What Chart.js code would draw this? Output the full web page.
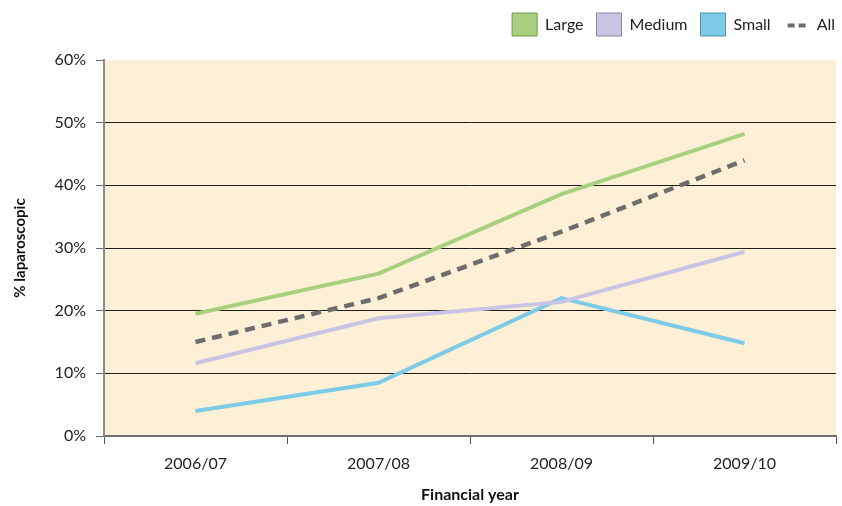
<!DOCTYPE html>
<html>
<head>
<meta charset="utf-8">
<script src="https://cdn.jsdelivr.net/npm/chart.js@4/dist/chart.umd.min.js"></script>
<style>
  html, body { margin: 0; padding: 0; background: #ffffff; }
  #wrap { width: 842px; height: 506px; }
</style>
</head>
<body>
<div id="wrap"><canvas id="c" width="842" height="506"></canvas></div>
<script>
// Share of procedures done laparoscopically, by unit size
const years = ['2006/07', '2007/08', '2008/09', '2009/10'];
const large  = [19.5, 25.9, 38.6, 48.2];
const medium = [11.6, 18.8, 21.4, 29.4];
const small  = [4.0, 8.5, 22.0, 14.8];
const all    = [15.0, 22.0, 32.6, 44.0];
const yTicks = [0, 10, 20, 30, 40, 50, 60];

const FONT = 'Lato, "Open Sans", "DejaVu Sans", sans-serif';

// Pale plot-area fill
const plotBackground = {
  id: 'plotBackground',
  beforeDraw(chart) {
    const a = chart.chartArea, ctx = chart.ctx;
    ctx.save();
    ctx.fillStyle = '#fdf0d6';
    ctx.fillRect(a.left, a.top, a.right - a.left, a.bottom - a.top);
    ctx.restore();
  }
};

// Fixed legend band height, legend pushed to the right edge,
// and a dashed glyph for the "All" entry
const legendTweaks = {
  id: 'legendTweaks',
  beforeInit(chart) {
    const lg = chart.legend;
    if (lg && !lg._fixedFit) {
      const fit = lg.fit;
      lg.fit = function () { fit.call(this); this.height = 60; };
      lg._fixedFit = true;
    }
  },
  afterLayout(chart) {
    const lg = chart.legend;
    if (lg) {
      lg.right = 848;
      lg.width = lg.right - lg.left;
    }
  },
  afterDraw(chart) {
    const lg = chart.legend;
    if (!lg || !lg.legendHitBoxes) return;
    const idx = lg.legendItems.findIndex(it => it.text === 'All');
    if (idx < 0) return;
    const hb = lg.legendHitBoxes[idx];
    const ctx = chart.ctx;
    const y = hb.top + hb.height / 2 + 1;
    ctx.save();
    ctx.strokeStyle = '#6d6d6d';
    ctx.lineWidth = 4;
    ctx.setLineDash([7, 4]);
    ctx.beginPath();
    ctx.moveTo(hb.left + 4, y);
    ctx.lineTo(hb.left + 22, y);
    ctx.stroke();
    ctx.restore();
  }
};

const series = [
  { label: 'Large',  data: large,  color: '#a8d17f', edge: '#6f9a48', dash: [] },
  { label: 'Medium', data: medium, color: '#cac4e4', edge: '#8a84a6', dash: [] },
  { label: 'Small',  data: small,  color: '#7ecbe8', edge: '#4f93ad', dash: [] },
  { label: 'All',    data: all,    color: '#6d6d6d', edge: '#6d6d6d', dash: [10, 7] }
];

new Chart(document.getElementById('c'), {
  type: 'line',
  data: {
    labels: years,
    datasets: series.map(s => ({
      label: s.label,
      data: s.data,
      borderColor: s.color,
      backgroundColor: s.color,
      borderWidth: s.label === 'All' ? 4.5 : 4,
      borderDash: s.dash,
      pointRadius: 0,
      tension: 0,
      fill: false,
      edge: s.edge
    }))
  },
  plugins: [plotBackground, legendTweaks],
  options: {
    responsive: false,
    animation: false,
    devicePixelRatio: 1,
    layout: { padding: { left: 0, right: 6, top: 0, bottom: 0 } },
    plugins: {
      tooltip: { enabled: false },
      legend: {
        position: 'top',
        align: 'end',
        labels: {
          boxWidth: 25,
          boxHeight: 23,
          padding: 13,
          color: '#222',
          font: { family: FONT, size: 16 },
          generateLabels(chart) {
            return chart.data.datasets.map((d, i) => ({
              text: d.label,
              datasetIndex: i,
              fillStyle: d.label === 'All' ? 'rgba(0,0,0,0)' : d.backgroundColor,
              strokeStyle: d.label === 'All' ? 'rgba(0,0,0,0)' : d.edge,
              lineWidth: 1,
              lineDash: [],
              fontColor: '#222',
              hidden: false
            }));
          }
        }
      }
    },
    scales: {
      x: {
        type: 'category',
        offset: true,
        afterFit(scale) { scale.height = 70; },
        grid: {
          offset: true,
          drawOnChartArea: false,
          drawTicks: true,
          tickLength: 8,
          tickColor: '#555',
          tickWidth: 1
        },
        border: { display: true, color: '#6e6e6e', width: 2 },
        ticks: {
          color: '#222',
          padding: 10,
          font: { family: FONT, size: 16 }
        },
        title: {
          display: true,
          text: 'Financial year',
          color: '#111',
          font: { family: FONT, size: 16, weight: 'bold' },
          padding: { top: 10, bottom: 2 }
        }
      },
      y: {
        min: 0,
        max: 60,
        afterFit(scale) { scale.width = 104; },
        afterBuildTicks(scale) { scale.ticks = yTicks.map(v => ({ value: v })); },
        grid: {
          drawTicks: true,
          tickLength: 8,
          tickColor: '#666',
          color: ctx => (ctx.tick && (ctx.tick.value === 0 || ctx.tick.value === 60)) ? 'rgba(0,0,0,0)' : '#1e1e1e',
          lineWidth: 1
        },
        border: { display: true, color: '#8a8a8a', width: 2 },
        ticks: {
          color: '#222',
          padding: 10,
          font: { family: FONT, size: 16 },
          callback: v => v + '%'
        },
        title: {
          display: true,
          text: '% laparoscopic',
          color: '#111',
          font: { family: FONT, size: 15, weight: 'bold' },
          padding: { top: 11, bottom: 4 }
        }
      }
    }
  }
});
</script>
</body>
</html>
